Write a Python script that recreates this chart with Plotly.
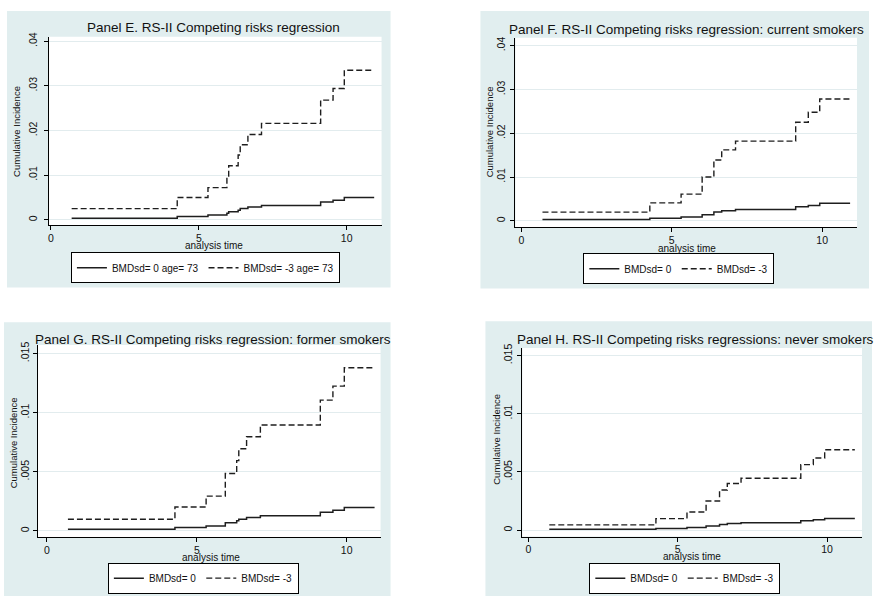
import plotly.graph_objects as go

# Event times (years) shared by the four cumulative incidence curves
times = [0.7, 4.27, 5.31, 5.95, 6.01, 6.33, 6.40, 6.66, 7.12, 9.12, 9.54, 9.92, 10.93]

# Panel E: whole cohort, age 73
e_bmd0 = [0.00037, 0.00075, 0.00107, 0.00146, 0.0018, 0.00216, 0.0025, 0.00285, 0.00322, 0.0040, 0.00439, 0.0050, 0.0050]
e_bmdm3 = [0.0025, 0.0050, 0.0072, 0.0098, 0.0121, 0.0145, 0.0168, 0.0191, 0.0216, 0.0268, 0.0294, 0.0335, 0.0335]

# Panel F: current smokers
f_bmd0 = [0.0003, 0.0006, 0.0009, 0.0009, 0.0014, 0.0014, 0.0020, 0.0023, 0.0026, 0.0032, 0.0035, 0.0040, 0.0040]
f_bmdm3 = [0.0020, 0.0041, 0.0061, 0.0061, 0.0100, 0.0100, 0.0139, 0.0162, 0.0182, 0.0225, 0.0248, 0.0278, 0.0278]

# Panel G: former smokers
g_bmd0 = [0.00014, 0.00029, 0.00042, 0.00069, 0.00069, 0.00085, 0.00099, 0.00114, 0.00128, 0.00158, 0.00175, 0.00197, 0.00197]
g_bmdm3 = [0.00098, 0.00202, 0.00294, 0.00485, 0.00485, 0.00594, 0.00695, 0.00796, 0.00896, 0.01106, 0.01224, 0.0138, 0.0138]

# Panel H: never smokers
h_bmd0 = [0.00007, 0.00014, 0.00022, 0.00036, 0.00036, 0.00036, 0.00049, 0.00057, 0.00064, 0.0008, 0.00089, 0.00099, 0.00099]
h_bmdm3 = [0.00045, 0.00099, 0.00156, 0.0025, 0.0025, 0.0025, 0.00344, 0.0040, 0.00446, 0.00563, 0.0062, 0.0069, 0.0069]

titles = [
    "Panel E. RS-II Competing risks regression",
    "Panel F. RS-II Competing risks regression: current smokers",
    "Panel G. RS-II Competing risks regression: former smokers",
    "Panel H. RS-II Competing risks regressions: never smokers",
]
legend_names = [
    ["BMDsd= 0 age= 73", "BMDsd= -3 age= 73"],
    ["BMDsd= 0", "BMDsd= -3"],
    ["BMDsd= 0", "BMDsd= -3"],
    ["BMDsd= 0", "BMDsd= -3"],
]
x_ticks = [0, 5, 10]
y_ticks_big = [0, 0.01, 0.02, 0.03, 0.04]
y_labels_big = ["0", ".01", ".02", ".03", ".04"]
y_ticks_small = [0, 0.005, 0.01, 0.015]
y_labels_small = ["0", ".005", ".01", ".015"]

series = [(e_bmd0, e_bmdm3), (f_bmd0, f_bmdm3), (g_bmd0, g_bmdm3), (h_bmd0, h_bmdm3)]

W, H = 874, 596
FONT = "Liberation Sans, Arial, sans-serif"
PANEL_BG = "#e1eeef"
GRID = "#e2ecee"
INK = "#111111"


def fx(x):
    return x / W


def fy(y):
    return 1 - y / H


# layout geometry in pixels: panel box, plot area, axis ranges, text anchors
geo = [
    dict(bg=(6, 6, 390, 285), plot=(48, 32, 381, 222), xr=[-0.068, 11.18], yr=[-0.0012, 0.0410],
         title=(213, 23, "center"), ytitle=(16, 127), xtitle=(213, 243), legend=(70, 265), standoff=3),
    dict(bg=(480, 6, 869, 286), plot=(515, 33, 857, 224), xr=[-0.2, 11.16], yr=[-0.00143, 0.0418],
         title=(507, 25, "left"), ytitle=(489, 128), xtitle=(687, 246), legend=(583, 266), standoff=1),
    dict(bg=(3, 320, 390, 596), plot=(37, 343, 380, 537), xr=[-0.3, 11.13], yr=[-0.00056, 0.01571],
         title=(32, 337, "left"), ytitle=(12, 441), xtitle=(210, 557), legend=(107, 578), standoff=0),
    dict(bg=(485, 319, 872, 596), plot=(522, 346, 862, 536), xr=[-0.2, 11.17], yr=[-0.00055, 0.01564],
         title=(515, 337, "left"), ytitle=(496, 438), xtitle=(692, 556), legend=(589, 578), standoff=1),
]

fig = go.Figure()
shapes = []
annotations = []
layout_axes = {}

for i, g in enumerate(geo):
    n = i + 1
    xa = "x" if n == 1 else f"x{n}"
    ya = "y" if n == 1 else f"y{n}"
    leg = "legend" if n == 1 else f"legend{n}"
    s0, s3 = series[i]
    for vals, name, dash, w in [(s0, legend_names[i][0], "solid", 1.5), (s3, legend_names[i][1], "6px,3px", 1.4)]:
        fig.add_trace(go.Scatter(
            x=times, y=vals, mode="lines", line=dict(shape="hv", color="#1e1e1e", width=w, dash=dash),
            name=name, xaxis=xa, yaxis=ya, legend=leg, hoverinfo="skip",
        ))

    bx0, by0, bx1, by1 = g["bg"]
    shapes.append(dict(type="rect", xref="paper", yref="paper", x0=fx(bx0), x1=fx(bx1), y0=fy(by1), y1=fy(by0),
                       fillcolor=PANEL_BG, line=dict(width=0), layer="below"))
    px0, py0, px1, py1 = g["plot"]
    shapes.append(dict(type="rect", xref="paper", yref="paper", x0=fx(px0), x1=fx(px1), y0=fy(py1), y1=fy(py0),
                       fillcolor="white", line=dict(width=0), layer="below"))

    small = i >= 2
    axis_common = dict(showline=True, linecolor="black", linewidth=1, ticks="outside", ticklen=4,
                       tickcolor="black", tickwidth=1, zeroline=False, mirror=False,
                       tickfont=dict(family=FONT, size=10.5, color=INK))
    xkey = "xaxis" if n == 1 else f"xaxis{n}"
    ykey = "yaxis" if n == 1 else f"yaxis{n}"
    layout_axes[xkey] = dict(axis_common, domain=[fx(px0), fx(px1)], range=g["xr"], anchor=ya,
                             tickvals=x_ticks, ticktext=[str(t) for t in x_ticks], showgrid=False,
                             ticklabelstandoff=-1)
    layout_axes[ykey] = dict(axis_common, domain=[fy(py1), fy(py0)], range=g["yr"], anchor=xa,
                             tickvals=y_ticks_small if small else y_ticks_big,
                             ticktext=y_labels_small if small else y_labels_big,
                             tickangle=-90, showgrid=True, gridcolor=GRID, gridwidth=1,
                             ticklabelstandoff=g["standoff"])

    tx, ty, anchor = g["title"]
    annotations.append(dict(text=titles[i], xref="paper", yref="paper", x=fx(tx), y=fy(ty),
                            xanchor=anchor, yanchor="middle", showarrow=False,
                            font=dict(family=FONT, size=13.5, color=INK)))
    yx, yy = g["ytitle"]
    annotations.append(dict(text="Cumulative Incidence", xref="paper", yref="paper", x=fx(yx), y=fy(yy),
                            xanchor="center", yanchor="middle", textangle=-90, showarrow=False,
                            font=dict(family=FONT, size=9.5, color=INK)))
    xx, xy = g["xtitle"]
    annotations.append(dict(text="analysis time", xref="paper", yref="paper", x=fx(xx), y=fy(xy),
                            xanchor="center", yanchor="middle", showarrow=False,
                            font=dict(family=FONT, size=10, color=INK)))

    lx, ly = g["legend"]
    layout_axes[leg] = dict(x=fx(lx), y=fy(ly), xanchor="left", yanchor="middle", orientation="h",
                            bgcolor="white", bordercolor="black", borderwidth=1,
                            font=dict(family=FONT, size=10, color=INK), tracegroupgap=0,
                            itemwidth=30, traceorder="normal")

fig.update_layout(
    width=W, height=H, margin=dict(l=0, r=0, t=0, b=0),
    paper_bgcolor="white", plot_bgcolor="rgba(0,0,0,0)",
    shapes=shapes, annotations=annotations, showlegend=True,
    **layout_axes,
)

fig.write_html("out.html")
